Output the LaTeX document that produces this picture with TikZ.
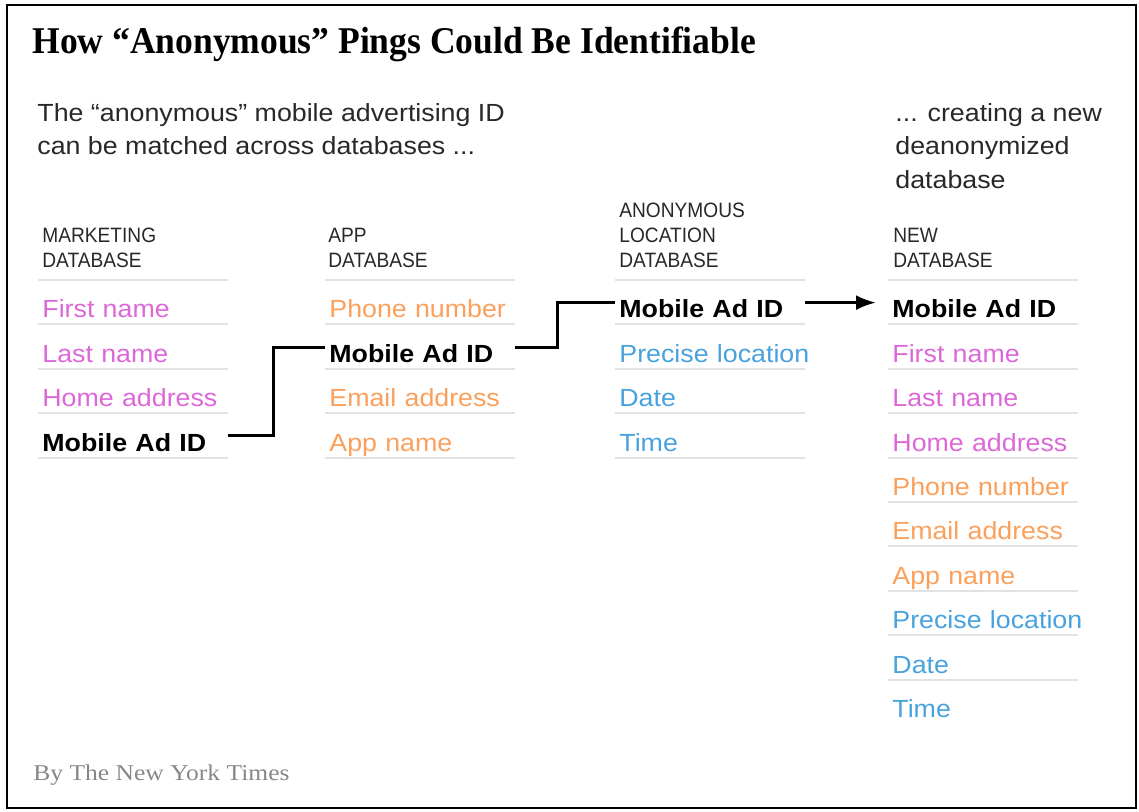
\documentclass[tikz,border=0pt]{standalone}
\usepackage{fontspec}
\setmainfont{Liberation Sans}[FakeStretch=1.08]
\newfontfamily\headlinefont{Liberation Serif}[FakeStretch=0.94]
\newfontfamily\bylinefont{Liberation Serif}[FakeStretch=1.13]
\newfontfamily\dbfont{Liberation Sans}[FakeStretch=0.92]
\usetikzlibrary{arrows.meta}

\definecolor{mktpink}{RGB}{220,104,216}
\definecolor{apporange}{RGB}{250,160,92}
\definecolor{locblue}{RGB}{72,162,222}
\definecolor{rulegray}{RGB}{226,226,226}
\definecolor{bygray}{RGB}{135,135,135}
\definecolor{inkgray}{RGB}{40,40,40}

\tikzset{
  cell/.style={anchor=north west,inner xsep=2pt,inner ysep=0pt,text width=90.5pt,align=left,
      text height=18.7pt,text depth=3.5pt,font=\fontsize{12.4pt}{15pt}\selectfont},
  mkt/.style={text=mktpink},
  app/.style={text=apporange},
  loc/.style={text=locblue},
  adid/.style={text=black,font=\fontsize{12.4pt}{15pt}\selectfont\bfseries},
  dbhead/.style={anchor=south west,inner sep=0pt,align=left,text=inkgray,
      font=\dbfont\fontsize{10.4pt}{12.5pt}\selectfont},
  note/.style={anchor=base west,inner sep=0pt,align=left,text=inkgray,
      font=\fontsize{12.4pt}{16.75pt}\selectfont},
  rule/.style={rulegray,line width=1pt},
  link/.style={line width=1.5pt}
}

\begin{document}
\begin{tikzpicture}[x=0.5pt,y=-0.5pt,>={Latex[length=10pt,width=7.5pt]}]
  \useasboundingbox (0,0) rectangle (1139,811);
  \draw[line width=1.3pt] (7,5) rectangle (1136,808);

  \node[anchor=base west,inner sep=0pt,font=\headlinefont\bfseries\fontsize{18.9pt}{22pt}\selectfont]
    (title) at (32,53) {How “Anonymous” Pings Could Be Identifiable};
  % base of a two or three line note is its last line
  \node[note] (intro) at (37,154.5) {The “anonymous” mobile advertising ID\\can be matched across databases ...};
  \node[note] (outro) at (895,188) {... creating a new\\deanonymized\\database};

  % column heads
  \node[dbhead] (mkthead) at (42,268) {MARKETING\\DATABASE};
  \node[dbhead] (apphead) at (328,268) {APP\\DATABASE};
  \node[dbhead] (lochead) at (619,268) {ANONYMOUS\\LOCATION\\DATABASE};
  \node[dbhead] (newhead) at (893,268) {NEW\\DATABASE};

  % rows
  \foreach \txt/\kind [count=\i] in {First name/mkt,Last name/mkt,Home address/mkt,Mobile Ad ID/adid} {
      \node[cell,\kind] (mkt\i) at (38,{280+44.4*(\i-1)}) {\mbox{\txt}};
      \draw[rule] (mkt\i.north west) -- (mkt\i.north east);
    }
  \draw[rule] (mkt4.south west) -- (mkt4.south east);

  \foreach \txt/\kind [count=\i] in {Phone number/app,Mobile Ad ID/adid,Email address/app,App name/app} {
      \node[cell,\kind] (app\i) at (325,{280+44.4*(\i-1)}) {\mbox{\txt}};
      \draw[rule] (app\i.north west) -- (app\i.north east);
    }
  \draw[rule] (app4.south west) -- (app4.south east);

  \foreach \txt/\kind [count=\i] in {Mobile Ad ID/adid,Precise location/loc,Date/loc,Time/loc} {
      \node[cell,\kind] (loc\i) at (615,{280+44.4*(\i-1)}) {\mbox{\txt}};
      \draw[rule] (loc\i.north west) -- (loc\i.north east);
    }
  \draw[rule] (loc4.south west) -- (loc4.south east);

  \foreach \txt/\kind [count=\i] in {Mobile Ad ID/adid,First name/mkt,Last name/mkt,Home address/mkt,
      Phone number/app,Email address/app,App name/app,Precise location/loc,Date/loc,Time/loc} {
      \node[cell,\kind] (new\i) at (888,{280+44.4*(\i-1)}) {\mbox{\txt}};
      \draw[rule] (new\i.north west) -- (new\i.north east);
    }

  % matching the ID
  \draw[link] (mkt4.east) -- ++(46,0) |- (app2.west);
  \draw[link] (app2.east) -- ++(43,0) |- (loc1.west);
  \draw[link,->,shorten >=6pt] (loc1.east) -- (new1.west);

  \node[anchor=base west,inner sep=0pt,text=bygray,font=\bylinefont\fontsize{11.3pt}{14pt}\selectfont]
    (byline) at (33,780) {By The New York Times};
\end{tikzpicture}
\end{document}
